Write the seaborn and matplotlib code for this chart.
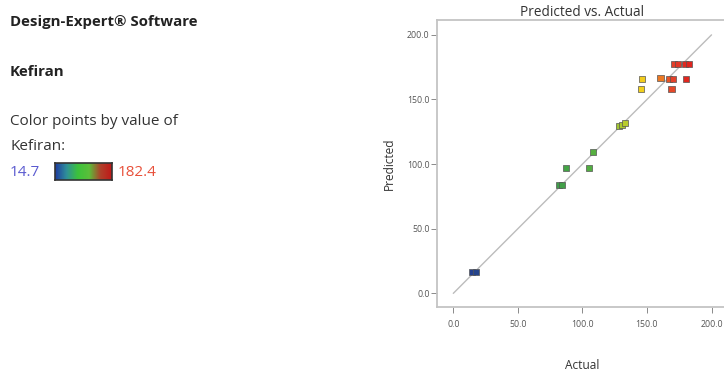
import numpy as np
import pandas as pd
import matplotlib
matplotlib.use("Agg")
import matplotlib.pyplot as plt
from matplotlib.colors import LinearSegmentedColormap, Normalize
import seaborn as sns

# ---- data ----
actual = [14.7, 17.5, 82.0, 84.5, 87.0, 105.0, 108.4, 128.5, 130.5, 133.0,
          145.8, 145.3, 160.5, 167.2, 170.3, 169.0, 170.8, 174.4, 179.3, 182.4, 180.6]
predicted = [16.5, 16.5, 83.8, 83.8, 96.7, 96.7, 109.1, 129.5, 130.5, 131.5,
             165.6, 158.1, 166.6, 165.9, 165.9, 158.1, 177.2, 177.2, 177.2, 177.2, 165.6]
tick_values = [0, 50, 100, 150, 200]
tick_labels = ["0.0", "50.0", "100.0", "150.0", "200.0"]
kef_min, kef_max = 14.7, 182.4

sns.set_theme(style="white")
plt.rcParams['font.family'] = ['Open Sans', 'DejaVu Sans']

fig = plt.figure(figsize=(7.24, 3.71), dpi=100)
W, H = 724, 371

# main axes (pixel geometry)
left, right, top, bottom = 437.3, 727.0, 20.0, 307.3
ax = fig.add_axes([left / W, 1 - bottom / H, (right - left) / W, (bottom - top) / H])

pt_cmap = LinearSegmentedColormap.from_list(
    "de", [(0.0, "#24408f"), (0.45, "#45a843"), (0.6, "#5cb23f"), (0.7, "#b5cc2e"),
           (0.78, "#f2d01c"), (0.87, "#ec7a24"), (0.93, "#e3402a"), (1.0, "#e0241e")])

df = pd.DataFrame({"Actual": actual, "Predicted": predicted})
ax.plot([0, 200], [0, 200], color="#bcbcbc", lw=1.0, zorder=1)
sns.scatterplot(data=df, x="Actual", y="Predicted", hue="Actual", palette=pt_cmap,
                hue_norm=Normalize(kef_min, kef_max), marker="s", s=19,
                edgecolor="#555555", linewidth=0.5, legend=False, ax=ax, zorder=3)

ax.set_xlim(-12.4, 212.0)
ax.set_ylim(-10.8, 211.5)
ax.set_xticks(tick_values)
ax.set_xticklabels(tick_labels)
ax.set_yticks(tick_values)
ax.set_yticklabels(tick_labels)
ax.tick_params(axis="both", labelsize=6.3, labelcolor="#555555", color="#777777",
               length=4, width=0.6, direction="out", bottom=True, left=True)
ax.tick_params(axis="x", pad=5)
ax.tick_params(axis="y", pad=1.5)
for sp in ax.spines.values():
    sp.set_color("#c4c4c4")
    sp.set_linewidth(1.3)
ax.set_xlabel("Actual", fontsize=8.6, color="#333333", labelpad=22)
ax.set_ylabel("Predicted", fontsize=8.6, color="#333333", labelpad=8)
ax.set_title("Predicted vs. Actual", fontsize=9.8, color="#333333", pad=3)

# ---- left side text ----
fig.text(10 / W, 1 - 22 / H, "Design-Expert\u00ae Software", fontsize=10.8,
         fontweight="bold", color="#222222", va="center", ha="left")
fig.text(10 / W, 1 - 72 / H, "Kefiran", fontsize=10.8, fontweight="bold",
         color="#222222", va="center", ha="left")
fig.text(10 / W, 1 - 122 / H, "Color points by value of", fontsize=11,
         color="#333333", va="center", ha="left")
fig.text(10 / W, 1 - 146 / H, "Kefiran:", fontsize=11,
         color="#333333", va="center", ha="left")
fig.text(10 / W, 1 - 172 / H, f"{kef_min}", fontsize=11,
         color="#5b5bd0", va="center", ha="left")
fig.text(118 / W, 1 - 172 / H, f"{kef_max}", fontsize=11,
         color="#e8503a", va="center", ha="left")

bar_cmap = LinearSegmentedColormap.from_list(
    "bar", ["#1e3aa0", "#2f8f9a", "#3cc23c", "#5bbf3a", "#b0402a", "#c01818"])
cax = fig.add_axes([55 / W, 1 - 180 / H, 57 / W, 17 / H])
cax.imshow(np.linspace(0, 1, 256)[None, :], aspect="auto", cmap=bar_cmap)
cax.set_xticks([])
cax.set_yticks([])
for sp in cax.spines.values():
    sp.set_color("#333333")
    sp.set_linewidth(1.2)

fig.savefig("out.png", dpi=100)
